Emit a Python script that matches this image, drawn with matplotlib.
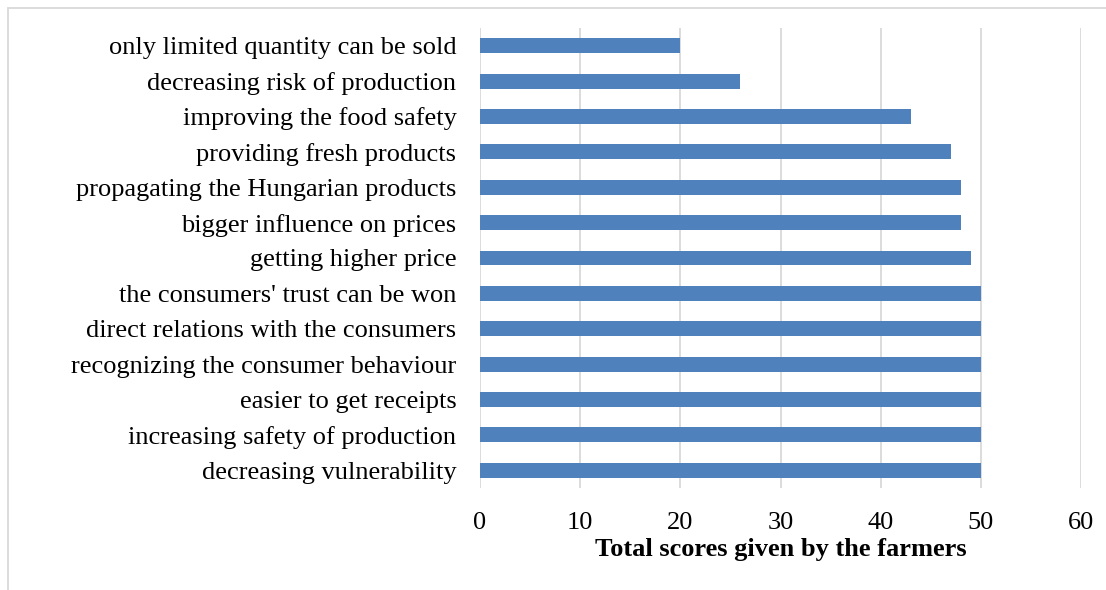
import matplotlib
matplotlib.use("Agg")
import matplotlib.pyplot as plt
from matplotlib.patches import Rectangle

plt.rcParams['font.family'] = ['Liberation Serif', 'DejaVu Serif']

labels = [
    "only limited quantity can be sold",
    "decreasing risk of production",
    "improving the food safety",
    "providing fresh products",
    "propagating the Hungarian products",
    "bigger influence on prices",
    "getting higher price",
    "the consumers' trust can be won",
    "direct relations with the consumers",
    "recognizing the consumer behaviour",
    "easier to get receipts",
    "increasing safety of production",
    "decreasing vulnerability",
]
scores = [20, 26, 43, 47, 48, 48, 49, 50, 50, 50, 50, 50, 50]
xticks = [0, 10, 20, 30, 40, 50, 60]

fig = plt.figure(figsize=(11.06, 5.9), dpi=100)
ax = fig.add_axes([480 / 1106, 1 - 488 / 590, 601 / 1106, 460 / 590])

pos = list(range(len(labels)))
ax.barh(pos, scores, height=0.42, color="#4F81BD", zorder=3)
ax.set_ylim(len(labels) - 0.5, -0.5)
ax.set_yticks(pos)
ax.set_yticklabels(labels, fontsize=19)
ax.set_xlim(0, 60)
ax.set_xticks(xticks)
ax.set_xticklabels([str(t) for t in xticks], fontsize=19)
ax.tick_params(axis="both", length=0)
ax.tick_params(axis="x", pad=17)
ax.tick_params(axis="y", pad=17)
ax.grid(axis="x", color="#D9D9D9", linewidth=1.3, zorder=0)
for s in ax.spines.values():
    s.set_visible(False)
ax.set_xlabel("Total scores given by the farmers", fontsize=19, fontweight="bold", labelpad=3)

# outer chart border (cropped at right/bottom)
fig.patches.append(Rectangle((8 / 1106, -0.1), 1.2, 1 - 8 / 590 + 0.1, transform=fig.transFigure,
                             fill=False, edgecolor="#D9D9D9", linewidth=1.3))

fig.savefig("out.png", dpi=100)
